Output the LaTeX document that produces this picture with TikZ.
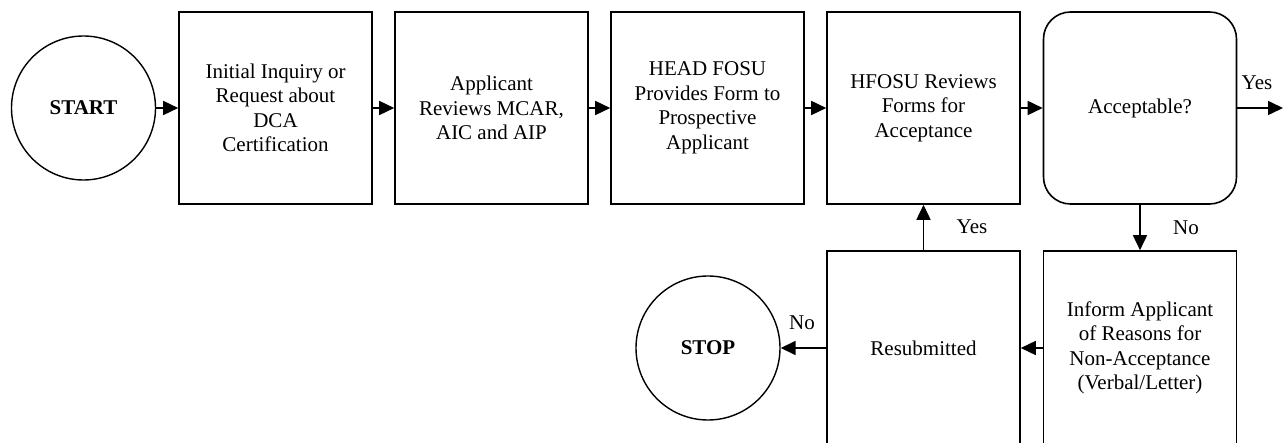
\documentclass[tikz,border=0pt]{standalone}
\usepackage{fontspec}
\setmainfont{Liberation Serif}
\usetikzlibrary{arrows.meta}
\begin{document}
\begin{tikzpicture}[x=1pt,y=-1pt,
  every node/.style={font=\fontsize{21}{24.5}\selectfont},
  box/.style={draw, line width=1.6pt, minimum width=193pt, minimum height=192pt, inner sep=0pt, align=center},
  term/.style={draw, circle, line width=1.4pt, minimum size=144pt, inner sep=0pt, font=\fontsize{21}{24.5}\selectfont\bfseries},
  arr/.style={line width=1.6pt, -{Triangle[length=15pt,width=14pt]}},
  lbl/.style={inner sep=0pt}]
\useasboundingbox (0,0) rectangle (1286,443);
\node[term] (start) at (83.5,108) {START};
\node[box] (b1) at (275.5,108) {Initial Inquiry or\\Request about\\DCA\\Certification};
\node[box] (b2) at (491.5,108) {Applicant\\Reviews MCAR,\\AIC and AIP};
\node[box] (b3) at (707.5,108) {HEAD FOSU\\Provides Form to\\Prospective\\Applicant};
\node[box] (b4) at (923.5,108) {HFOSU Reviews\\Forms for\\Acceptance};
\node[box, rounded corners=27pt] (acc) at (1140,108) {Acceptable?};
\node[box, minimum height=194pt] (inf) at (1140,348) {Inform Applicant\\of Reasons for\\Non-Acceptance\\(Verbal/Letter)};
\node[box, minimum height=194pt] (res) at (923.5,348) {Resubmitted};
\node[term] (stop) at (708,348) {STOP};
\coordinate (yesend) at (1283,108);
\draw[arr] (start) -- (b1);
\draw[arr] (b1) -- (b2);
\draw[arr] (b2) -- (b3);
\draw[arr] (b3) -- (b4);
\draw[arr] (b4) -- (acc);
\draw[arr] (acc.east) -- (yesend);
\draw[arr] (acc.south) -- (inf.north);
\draw[arr] (inf.west) -- (res.east);
\draw[arr] (res.west) -- (stop.east);
\draw[arr] (res.north) -- (b4.south);
\node[lbl] (lyes1) at (1257,83) {Yes};
\node[lbl] (lno1) at (1186,228) {No};
\node[lbl] (lyes2) at (972,227) {Yes};
\node[lbl] (lno2) at (802,323) {No};
\end{tikzpicture}
\end{document}
